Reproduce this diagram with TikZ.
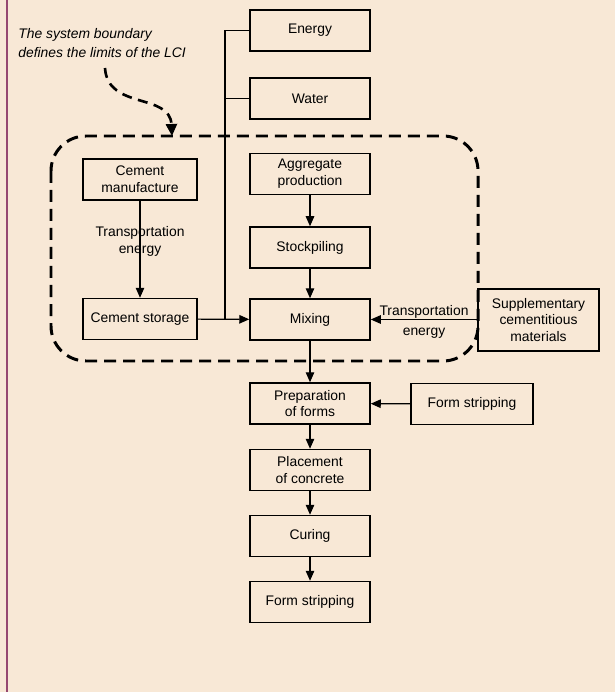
\documentclass[tikz,border=0pt]{standalone}
\usepackage{fontspec}
\setmainfont{Liberation Sans}
\usepackage{tikz}
\usetikzlibrary{arrows.meta,calc,positioning}

\definecolor{paper}{RGB}{248,232,214}
\definecolor{edge}{RGB}{150,72,112}

\tikzset{
  box/.style={draw,line width=0.85pt,minimum width=2.4cm,minimum height=0.82cm,
    align=center,inner sep=1pt,font=\fontsize{7.9}{9.5}\selectfont},
  arr/.style={line width=0.65pt,-{Triangle[length=0.2cm,width=0.17cm]}},
  lbl/.style={font=\fontsize{7.9}{9.5}\selectfont,align=center,inner sep=1pt},
  boundary/.style={line width=1.7pt,dash pattern=on 0.24cm off 0.14cm}
}

\begin{document}
\begin{tikzpicture}
% Background and left edge
\fill[paper] (0,0) rectangle (12.3,-13.84);
\useasboundingbox (0,0) rectangle (12.3,-13.84);
\draw[edge,line width=1.2pt] (0.14,0) -- (0.14,-13.84);

% System boundary
\draw[boundary,rounded corners=0.7cm] (1.02,-2.72) rectangle (9.56,-7.22);

% Note
\node[anchor=west,font=\fontsize{7.9}{11.3}\selectfont\itshape,align=left,inner sep=0pt]
  (note) at (0.36,-0.86) {The system boundary\\defines the limits of the LCI};
\coordinate (tip) at (3.44,-2.72);
\draw[boundary,line width=1.5pt,dash pattern=on 0.2cm off 0.13cm,-{Triangle[length=0.24cm,width=0.22cm]}]
  (2.1,-1.36) .. controls (2.15,-2.2) and (3.4,-1.85) .. (tip);

% Inputs
\node[box] (energy) at (6.2,-0.61) {Energy};
\node[box] (water) at (6.2,-1.97) {Water};

% Inside the boundary
\node[box,minimum width=2.28cm] (cemman) at (2.8,-3.59) {Cement\\manufacture};
\node[box,minimum width=2.28cm] (cemstore) at (2.8,-6.38) {Cement storage};
\node[box] (aggregate) at (6.2,-3.48) {Aggregate\\production};
\node[box] (stock) at (6.2,-4.95) {Stockpiling};
\node[box] (mixing) at (6.2,-6.39) {Mixing};
\node[box,minimum width=2.42cm,minimum height=1.24cm] (supp) at (10.77,-6.4)
  {Supplementary\\cementitious\\materials};

% Below the boundary
\node[box] (prep) at (6.2,-8.07) {Preparation\\of forms};
\node[box,minimum width=2.44cm] (strip1) at (9.44,-8.08) {Form stripping};
\node[box] (place) at (6.2,-9.4) {Placement\\of concrete};
\node[box] (curing) at (6.2,-10.72) {Curing};
\node[box] (strip2) at (6.2,-12.04) {Form stripping};

% Connectors
\coordinate (bus) at (4.5,-6.39);
\draw[line width=0.65pt] (energy.west) -| (bus);
\draw[line width=0.65pt] (water.west) -- (water.west -| bus);
\draw[arr] (cemman) -- node[lbl,pos=0.42] {Transportation\\energy} (cemstore);
\draw[arr] (cemstore) -- (mixing);
\draw[arr] (aggregate) -- (stock);
\draw[arr] (stock) -- (mixing);
\draw[arr] (supp.west |- mixing) -- node[lbl,above,inner sep=0.5pt] {Transportation}
  node[lbl,below,yshift=-0.12cm] {energy} (mixing.east);
\draw[arr] (mixing) -- (prep);
\draw[arr] (strip1) -- (prep);
\draw[arr] (prep) -- (place);
\draw[arr] (place) -- (curing);
\draw[arr] (curing) -- (strip2);
\end{tikzpicture}
\end{document}
